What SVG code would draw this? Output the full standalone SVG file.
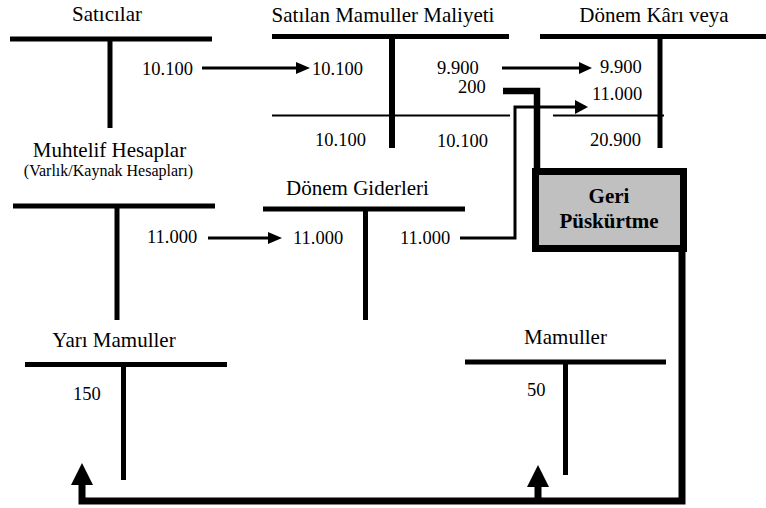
<svg xmlns="http://www.w3.org/2000/svg" width="766" height="508" viewBox="0 0 766 508" font-family="'Liberation Serif', 'Times New Roman', 'DejaVu Serif', serif">
<style>
text{font-family:'Liberation Serif','Times New Roman','DejaVu Serif',serif;fill:#000}
.t{font-size:21px;text-anchor:middle}
.n{font-size:18.5px}
.s{font-size:16px;text-anchor:middle}
.b{font-size:21px;font-weight:bold;text-anchor:middle}
.bar{stroke:#000;stroke-width:5;fill:none}
.thin{stroke:#000;stroke-width:2;fill:none}
.ln{stroke:#000;stroke-width:3;fill:none}
.thick{stroke:#000;stroke-width:7;fill:none}
</style>
<rect width="766" height="508" fill="#fff"/>
<g id="saticilar">
<text class="t" x="107" y="21">Satıcılar</text>
<line class="bar" x1="10" y1="39" x2="212" y2="39"/>
<line class="bar" x1="110" y1="39" x2="110" y2="128"/>
<text class="n" x="142" y="75">10.100</text>
</g>
<g id="satilan-mamuller-maliyeti">
<text class="t" x="383" y="22">Satılan Mamuller Maliyeti</text>
<line class="bar" x1="272" y1="36.5" x2="509" y2="36.5"/>
<line class="bar" x1="392" y1="36" x2="392" y2="148" style="stroke-width:6"/>
<line class="thin" x1="272" y1="115.5" x2="510" y2="115.5"/>
<text class="n" x="312" y="75">10.100</text>
<text class="n" x="437" y="74">9.900</text>
<text class="n" x="458" y="93">200</text>
<text class="n" x="315" y="146">10.100</text>
<text class="n" x="437" y="147">10.100</text>
</g>
<g id="donem-kari">
<text class="t" x="654" y="22">Dönem Kârı veya</text>
<line class="bar" x1="540" y1="36.5" x2="766" y2="36.5"/>
<line class="bar" x1="660" y1="36" x2="660" y2="148"/>
<line class="thin" x1="553" y1="115.5" x2="664" y2="115.5"/>
<text class="n" x="600" y="73">9.900</text>
<text class="n" x="592" y="100">11.000</text>
<text class="n" x="590" y="146">20.900</text>
</g>
<g id="muhtelif-hesaplar">
<text class="t" x="109.5" y="157">Muhtelif Hesaplar</text>
<text class="s" x="108.5" y="176">(Varlık/Kaynak Hesapları)</text>
<line class="bar" x1="13" y1="206" x2="215" y2="206"/>
<line class="bar" x1="117" y1="206" x2="117" y2="320"/>
<text class="n" x="147" y="243">11.000</text>
</g>
<g id="donem-giderleri">
<text class="t" x="357.5" y="195">Dönem Giderleri</text>
<line class="bar" x1="263" y1="209" x2="465" y2="209"/>
<line class="bar" x1="365.5" y1="209" x2="365.5" y2="320"/>
<text class="n" x="293" y="244">11.000</text>
<text class="n" x="400" y="244">11.000</text>
</g>
<g id="yari-mamuller">
<text class="t" x="114" y="347">Yarı Mamuller</text>
<line class="bar" x1="25" y1="364.5" x2="227" y2="364.5"/>
<line class="bar" x1="123.5" y1="364" x2="123.5" y2="480"/>
<text class="n" x="73" y="400">150</text>
</g>
<g id="mamuller">
<text class="t" x="565.5" y="344">Mamuller</text>
<line class="bar" x1="465" y1="362" x2="666" y2="362"/>
<line class="bar" x1="565.5" y1="362" x2="565.5" y2="475"/>
<text class="n" x="527" y="396">50</text>
</g>
<g id="geri-puskurtme">
<rect x="535.5" y="171.5" width="148" height="77" fill="#c0c0c0" stroke="#000" stroke-width="7"/>
<text class="b" x="609" y="203">Geri</text>
<text class="b" x="609" y="228">Püskürtme</text>
</g>
<g id="connectors">
<line class="ln" x1="202" y1="68" x2="297" y2="68"/>
<polygon points="296,62 310,68 296,74"/>
<line class="ln" x1="502" y1="68" x2="580" y2="68"/>
<polygon points="579,62 592,68 579,74"/>
<line class="ln" x1="208" y1="238" x2="269" y2="238"/>
<polygon points="268,232 282,238 268,244"/>
<polyline class="ln" points="460,238 515,238 515,107 576,107"/>
<polygon points="575,100 588,107 575,114"/>
<polyline class="thick" points="503,91 537,91 537,168" style="stroke-width:6.5"/>
<polyline class="thick" points="682,250 682,501 82,501 82,485" style="stroke-linejoin:miter"/>
<polygon points="71,485 93,485 82,463"/>
<line class="thick" x1="538" y1="501" x2="538" y2="486"/>
<polygon points="527,487 549,487 538,465"/>
</g>
</svg>
